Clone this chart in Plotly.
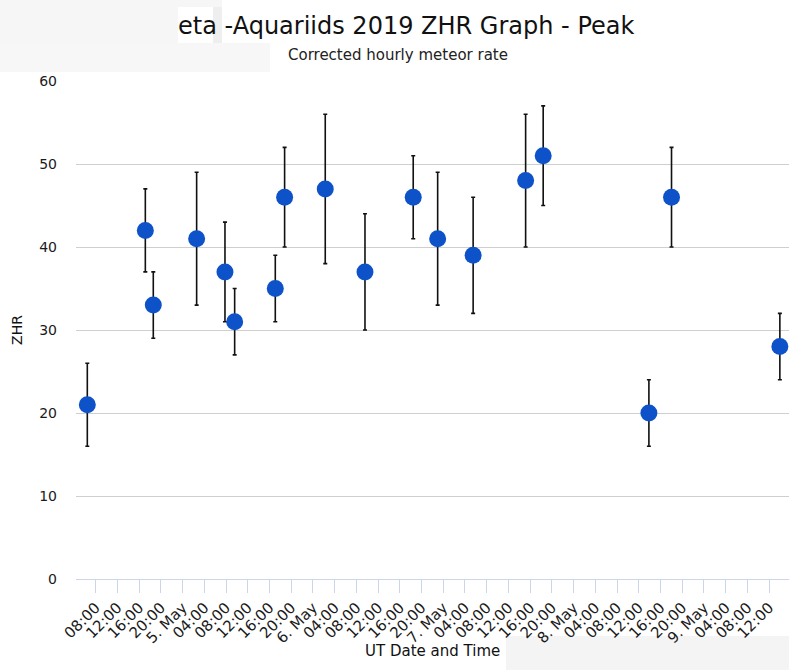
import pandas as pd
import plotly.graph_objects as go

# Observation times (UT), corrected ZHR and its uncertainty interval
obs_time = [
    "2019-05-04 06:27", "2019-05-04 17:08", "2019-05-04 18:36",
    "2019-05-05 02:35", "2019-05-05 07:48", "2019-05-05 09:35",
    "2019-05-05 17:04", "2019-05-05 18:47", "2019-05-06 02:16",
    "2019-05-06 09:35", "2019-05-06 18:28", "2019-05-06 22:58",
    "2019-05-07 05:30", "2019-05-07 15:10", "2019-05-07 18:24",
    "2019-05-08 13:52", "2019-05-08 18:02", "2019-05-09 13:59",
]
zhr = [21, 42, 33, 41, 37, 31, 35, 46, 47, 37, 46, 41, 39, 48, 51, 20, 46, 28]
zhr_low = [16, 37, 29, 33, 31, 27, 31, 40, 38, 30, 41, 33, 32, 40, 45, 16, 40, 24]
zhr_high = [26, 47, 37, 49, 43, 35, 39, 52, 56, 44, 51, 49, 46, 56, 57, 24, 52, 32]

# X-axis ticks every 4 hours; midnight ticks show the date
tick_times = pd.date_range("2019-05-04 08:00", "2019-05-09 12:00", freq="4h")
tick_labels = [
    f"{t.day}. May" if t.hour == 0 else t.strftime("%H:%M") for t in tick_times
]
y_ticks = [0, 10, 20, 30, 40, 50, 60]

W, H = 789, 670
ML, MR, MT, MB = 76, 0, 81, 91
PW, PH = W - ML - MR, H - MT - MB


def px(x):
    return (x - ML) / PW


def py(y):
    return (H - MB - y) / PH


err_plus = [h - v for h, v in zip(zhr_high, zhr)]
err_minus = [v - l for v, l in zip(zhr, zhr_low)]

fig = go.Figure()
fig.add_trace(go.Scatter(
    x=obs_time,
    y=zhr,
    mode="markers",
    marker=dict(color="#0d52c9", size=17, line=dict(width=0)),
    error_y=dict(type="data", symmetric=False, array=err_plus,
                 arrayminus=err_minus, color="#111111", thickness=1.6, width=2),
    cliponaxis=False,
    showlegend=False,
))

# faint background panels around the title and axis caption
panels = [
    (0, 0, 222, 43, "#f6f6f6"),
    (0, 43, 270, 72, "#f7f7f7"),
    (178, 7, 213, 43, "#ffffff"),
    (213, 7, 222, 43, "#eeeeee"),
    (506, 636, 789, 670, "#f4f4f4"),
]
shapes = [
    dict(type="rect", xref="paper", yref="paper",
         x0=px(x0), x1=px(x1), y0=py(y1), y1=py(y0),
         fillcolor=c, line=dict(width=0), layer="below")
    for x0, y0, x1, y1, c in panels
]

font_family = "DejaVu Sans"
annotations = [
    dict(text="eta -Aquariids 2019 ZHR Graph - Peak", xref="paper", yref="paper",
         x=px(405.5), y=py(26), xanchor="center", yanchor="middle",
         showarrow=False, font=dict(family=font_family, size=24, color="#111111")),
    dict(text="Corrected hourly meteor rate", xref="paper", yref="paper",
         x=px(397.5), y=py(55), xanchor="center", yanchor="middle",
         showarrow=False, font=dict(family=font_family, size=15, color="#222222")),
    dict(text="UT Date and Time", xref="paper", yref="paper",
         x=0.5, y=py(651), xanchor="center", yanchor="middle",
         showarrow=False, font=dict(family=font_family, size=15, color="#111111")),
]

fig.update_layout(
    width=W, height=H,
    margin=dict(l=ML, r=MR, t=MT, b=MB, pad=0),
    paper_bgcolor="white",
    plot_bgcolor="white",
    font=dict(family=font_family, color="#222222"),
    shapes=shapes,
    annotations=annotations,
    xaxis=dict(
        type="date",
        range=["2019-05-04 04:22", "2019-05-09 15:40"],
        tickvals=list(tick_times),
        ticktext=tick_labels,
        tickangle=-45,
        tickfont=dict(size=15, color="#1a1a1a"),
        ticks="outside", ticklen=13, tickcolor="#ccd6eb", tickwidth=1,
        showline=True, linecolor="#ccd6eb", linewidth=1,
        showgrid=False, zeroline=False,
    ),
    yaxis=dict(
        range=[0, 60],
        tickvals=y_ticks,
        tickfont=dict(size=14, color="#1a1a1a"),
        ticklabelstandoff=18,
        showgrid=True, gridcolor="#cfcfcf", gridwidth=1,
        zeroline=False, showline=False,
        title=dict(text="ZHR", font=dict(size=14, color="#111111"), standoff=13),
    ),
)

fig.write_html("out.html")
